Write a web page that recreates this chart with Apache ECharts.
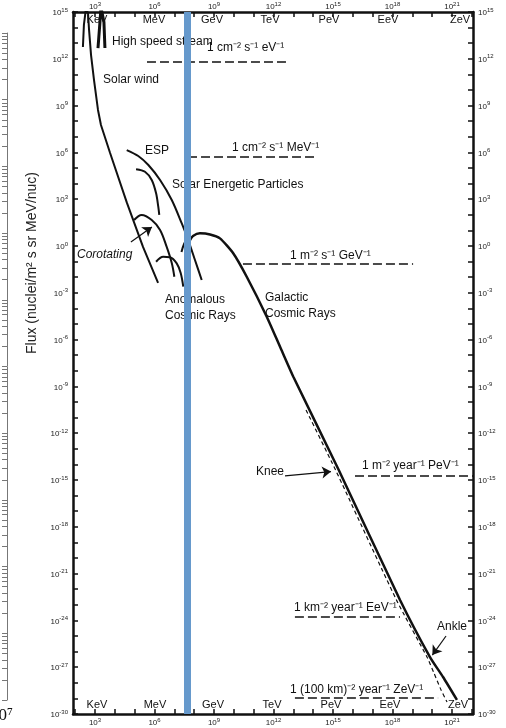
<!DOCTYPE html>
<html>
<head>
<meta charset="utf-8">
<script src="https://cdn.jsdelivr.net/npm/echarts@6/dist/echarts.min.js"></script>
<style>
  html, body { margin: 0; padding: 0; background: #fff; }
  #chart { width: 506px; height: 728px; }
</style>
</head>
<body>
<div id="chart"></div>
<script>
// every value is log10: energy in eV, flux in nuclei/(m2 s sr MeV/nuc)
const xTickVals = [2, 3, 4, 5, 6, 7, 8, 9, 10, 11, 12, 13, 14, 15, 16, 17, 18, 19, 20, 21, 22]
const xLabelVals = [3, 6, 9, 12, 15, 18, 21]
const yTickVals = [-30, -29, -28, -27, -26, -25, -24, -23, -22, -21, -20, -19, -18, -17, -16, -15, -14, -13, -12, -11, -10,
  -9, -8, -7, -6, -5, -4, -3, -2, -1, 0, 1, 2, 3, 4, 5, 6, 7, 8, 9, 10, 11, 12, 13, 14, 15]
const yLabelVals = [15, 12, 9, 6, 3, 0, -3, -6, -9, -12, -15, -18, -21, -24, -27, -30]
const unitNames = ['KeV', 'MeV', 'GeV', 'TeV', 'PeV', 'EeV', 'ZeV']

const solarWindE = [2.39, 2.44, 2.55, 2.65, 2.70, 2.80, 2.95, 3.15, 3.30, 3.76, 4.61, 5.42, 6.18]
const solarWindF = [12.76, 14.17, 15.3, 14.87, 13.85, 12.24, 10.64, 8.72, 7.76, 5.96, 2.76, -0.06, -2.37]
const streamE = [3.15, 3.25, 3.30, 3.40, 3.45, 3.50]
const streamF = [12.69, 14.36, 15.3, 15.3, 14.36, 12.69]

const espAE = [4.60, 5.18, 5.69, 6.28, 6.87, 7.37, 7.70, 8.04, 8.38]
const espAF = [6.15, 5.77, 5.19, 4.23, 2.95, 1.46, 0.38, -0.90, -2.18]
const espBE = [5.07, 5.52, 5.86, 6.08, 6.19, 6.24]
const espBF = [4.92, 4.76, 4.23, 3.38, 2.52, 1.99]

const cor1E = [4.97, 5.35, 5.86, 6.28, 6.61, 6.87, 7.00]
const cor1F = [1.67, 1.99, 1.67, 1.03, -0.04, -1.09, -1.97]
const cor2E = [6.08, 6.44, 6.78, 7.12, 7.32, 7.45]
const cor2F = [-1.01, -0.69, -0.72, -1.11, -1.73, -2.61]

const acrE = [7.36, 7.49, 7.64, 7.79]
const acrF = [-0.38, 0.13, 0.38, 0.38]

const gcrE = [7.79, 7.94, 8.29, 8.80, 9.30, 9.96, 10.65, 11.66, 12.33, 13.00, 15.29, 18.38, 19.89, 20.55, 21.25]
const gcrF = [0.38, 0.64, 0.81, 0.74, 0.49, -0.45, -1.97, -4.53, -6.46, -8.38, -14.36, -22.69, -26.35, -27.63, -29.10]
const gcrAltE = [13.64, 15.13, 18.20, 19.74, 20.09, 20.45, 20.75]
const gcrAltF = [-10.51, -14.36, -22.69, -26.35, -27.37, -28.46, -29.23]

// dashed reference fluxes
const refFlux = [11.79, 5.71, -1.15, -14.74, -23.78, -28.97]
const refFrom = [5.62, 7.69, 10.46, 16.11, 13.08, 13.08]
const refTo = [12.83, 14.14, 19.04, 22.06, 18.38, 20.30]
const refText = ['1 cm⁻² s⁻¹ eV⁻¹', '1 cm⁻² s⁻¹ MeV⁻¹', '1 m⁻² s⁻¹ GeV⁻¹',
  '1 m⁻² year⁻¹ PeV⁻¹', '1 km⁻² year⁻¹ EeV⁻¹', '1 (100 km)⁻² year⁻¹ ZeV⁻¹']

// arrows: Corotating, Knee, Ankle
const arrowFrom = [[4.81, 0.26], [12.58, -14.74], [20.70, -25.0]]
const arrowTo = [[5.87, 1.22], [14.90, -14.46], [20.01, -26.22]]

const markerE = 7.66

const FONT = '"Liberation Sans", Arial, sans-serif'
const INK = '#111'

const chart = echarts.init(document.getElementById('chart'))

function zip(xs, ys) {
  return xs.map((x, i) => [x, ys[i]])
}

function curve(xs, ys, width, smooth, dashed) {
  return {
    type: 'line',
    data: zip(xs, ys),
    symbol: 'none',
    smooth: smooth,
    silent: true,
    lineStyle: { color: INK, width: width, type: dashed ? [4, 3] : 'solid' }
  }
}

function pow10(v) {
  return '{b|10}{s|' + v + '}'
}
const labelRich = {
  b: { fontSize: 8, fontFamily: FONT, color: '#222', verticalAlign: 'bottom' },
  s: { fontSize: 6, fontFamily: FONT, color: '#222', verticalAlign: 'bottom', padding: [0, 0, 4, 0] }
}

function xAxisCfg(pos) {
  return {
    type: 'value',
    position: pos,
    min: 1.89,
    max: 22.06,
    axisLine: { show: true, onZero: false, lineStyle: { color: INK, width: 2.5 } },
    axisTick: { show: true, inside: true, length: 5, customValues: xTickVals, lineStyle: { color: INK, width: 1.5 } },
    axisLabel: { customValues: xLabelVals, formatter: pow10, rich: labelRich, margin: pos === 'top' ? 1 : 3 },
    splitLine: { show: false }
  }
}

function yAxisCfg(pos) {
  return {
    type: 'value',
    position: pos,
    min: -30,
    max: 15,
    axisLine: { show: true, onZero: false, lineStyle: { color: INK, width: 2.5 } },
    axisTick: { show: true, inside: true, length: 5, customValues: yTickVals, lineStyle: { color: INK, width: 1.5 } },
    axisLabel: { customValues: yLabelVals, formatter: pow10, rich: labelRich, margin: 5 },
    splitLine: { show: false }
  }
}

// left-edge ruler of the neighbouring figure
const rulerTicks = []
for (let d = 0; d < 10; d++) {
  for (let k = 1; k < 10; k++) rulerTicks.push(k * Math.pow(10, d))
}
rulerTicks.push(1e10)

function text(s, x, y, size, extra) {
  return {
    type: 'text',
    x: x,
    y: y,
    style: Object.assign({
      text: s,
      font: (size || 12) + 'px ' + FONT,
      fill: INK,
      align: 'left',
      verticalAlign: 'middle'
    }, extra || {})
  }
}

const unitX = [97, 154, 212, 270, 329, 388, 460]
const unitXBottom = [97, 155, 213, 272, 331, 390, 458]
const refLabelPos = [[207, 48], [232, 148], [290, 256], [362, 466], [294, 608], [290, 690]]

const graphics = [
  text('High speed stream', 112, 42),
  text('Solar wind', 103, 80),
  text('ESP', 145, 151),
  text('Solar Energetic Particles', 172, 185),
  text('Corotating', 77, 255, 12, { font: 'italic 12px ' + FONT }),
  text('Anomalous', 165, 300),
  text('Cosmic Rays', 165, 316),
  text('Galactic', 265, 298),
  text('Cosmic Rays', 265, 314),
  text('Knee', 256, 472),
  text('Ankle', 437, 627),
  {
    type: 'text',
    x: 32,
    y: 263,
    rotation: Math.PI / 2,
    style: { text: 'Flux (nuclei/m² s sr MeV/nuc)', font: '14px ' + FONT, fill: '#222', align: 'center', verticalAlign: 'middle' }
  },
  text('10⁷', -10, 716, 17, { font: '17px "Liberation Serif", serif' })
]
refText.forEach((t, i) => graphics.push(text(t, refLabelPos[i][0], refLabelPos[i][1])))
unitNames.forEach((u, i) => {
  graphics.push(text(u, unitX[i], 20, 11, { align: 'center' }))
  graphics.push(text(u, unitXBottom[i], 705, 11, { align: 'center' }))
})

const series = [
  curve(solarWindE, solarWindF, 2, false),
  curve(streamE, streamF, 3, false),
  curve(espAE, espAF, 2, 0.3),
  curve(espBE, espBF, 2, 0.3),
  curve(cor1E, cor1F, 2, 0.35),
  curve(cor2E, cor2F, 2, 0.35),
  curve(acrE, acrF, 2, 0.3),
  curve(gcrE, gcrF, 2.5, 0.2),
  curve(gcrAltE, gcrAltF, 1.2, 0.2, true)
]
refFlux.forEach((f, i) => {
  series.push({
    type: 'line',
    data: [[refFrom[i], f], [refTo[i], f]],
    symbol: 'none',
    silent: true,
    lineStyle: { color: INK, width: 1.5, type: [9, 4] }
  })
})
// arrows
series.push({
  type: 'line',
  data: [],
  silent: true,
  markLine: {
    silent: true,
    symbol: ['none', 'arrow'],
    symbolSize: 9,
    label: { show: false },
    lineStyle: { color: INK, width: 1.2, type: 'solid' },
    itemStyle: { color: INK },
    data: arrowFrom.map((p, i) => [{ coord: p }, { coord: arrowTo[i] }])
  }
})
// blue marker bar drawn over the figure
series.push({
  type: 'line',
  data: [],
  z: 10,
  silent: true,
  markLine: {
    silent: true,
    symbol: ['none', 'none'],
    label: { show: false },
    lineStyle: { color: '#6699cc', width: 7, type: 'solid', opacity: 1 },
    data: [{ xAxis: markerE }]
  }
})

chart.setOption({
  animation: false,
  backgroundColor: '#fff',
  grid: [
    { left: 73, right: 33, top: 12, bottom: 14 },
    { left: 7, top: 33, width: 1, height: 667 }
  ],
  xAxis: [
    xAxisCfg('bottom'),
    xAxisCfg('top'),
    { type: 'value', gridIndex: 1, show: false }
  ],
  yAxis: [
    yAxisCfg('left'),
    yAxisCfg('right'),
    {
      type: 'log',
      gridIndex: 1,
      min: 1,
      max: 1e10,
      position: 'left',
      axisLine: { show: true, lineStyle: { color: '#777', width: 1 } },
      axisTick: { show: true, length: 5, customValues: rulerTicks, lineStyle: { color: '#777', width: 1 } },
      axisLabel: { show: false },
      splitLine: { show: false }
    }
  ],
  graphic: graphics,
  series: series
})
</script>
</body>
</html>
